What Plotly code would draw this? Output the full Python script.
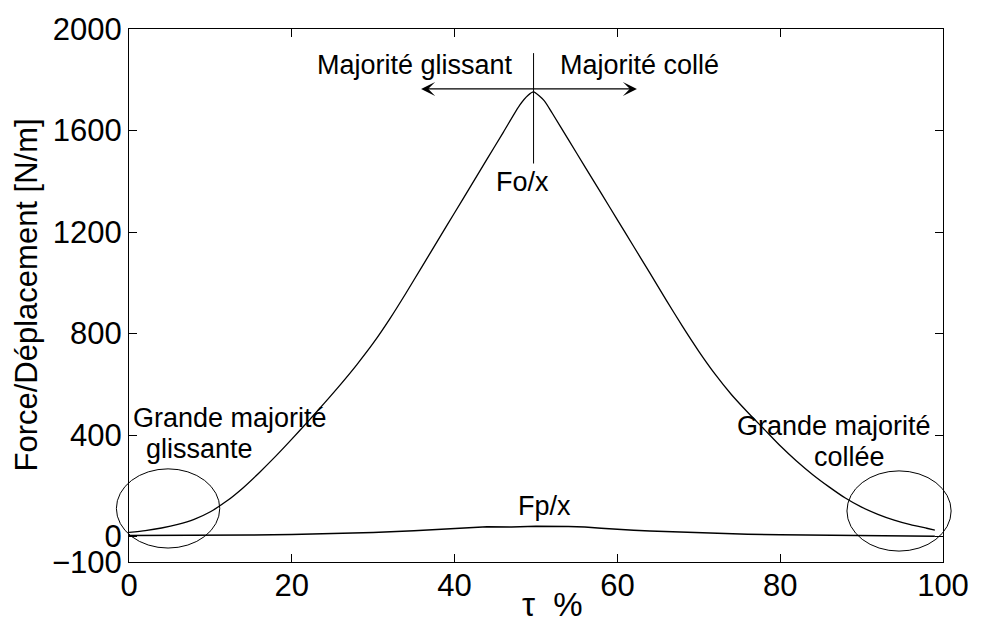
import plotly.graph_objects as go

# Fo/x curve (total force over displacement) vs stick ratio tau
tau_fo = [0, 2, 4, 6, 8, 10, 12, 14, 16, 18, 20, 22, 24, 26, 28, 30, 32, 34, 36, 38,
          40, 42, 44, 46, 48, 49, 49.7, 51, 52, 54, 56, 58, 60, 62, 64, 66, 68, 70,
          72, 74, 76, 78, 80, 82, 84, 86, 88, 90, 92, 94, 96, 98, 99]
fo = [17, 24, 34, 48, 68, 98, 140, 192, 252, 316, 384, 454, 526, 600, 678, 762, 856,
      958, 1064, 1170, 1276, 1382, 1488, 1594, 1700, 1738, 1752, 1718, 1668, 1563,
      1458, 1353, 1248, 1143, 1038, 932, 828, 730, 640, 560, 490, 424, 358, 298, 244,
      196, 152, 116, 88, 65, 47, 33, 26]

# Fp/x curve
tau_fp = [0, 5, 10, 15, 20, 25, 30, 35, 40, 44, 47, 50, 54, 56, 58, 60, 62, 64, 68,
          72, 76, 80, 85, 90, 95, 99]
fp = [4, 4, 5, 6, 8, 11, 16, 23, 31, 39, 38, 41, 40, 38, 33, 28, 25, 22, 17, 12, 9,
      7, 5, 3, 2, 1]

x_ticks = [0, 20, 40, 60, 80, 100]
y_ticks = [-100, 0, 400, 800, 1200, 1600, 2000]
y_ticktext = ["\u2212100", "0", "400", "800", "1200", "1600", "2000"]

X_RANGE = [0, 100]
Y_RANGE = [-100, 2000]

# highlighted zones: (center tau, center value, half width, half height)
zones = [(4.8, 111, 6.35, 156), (94.6, 101, 6.4, 158)]

FONT = "Liberation Sans, Arial, Helvetica, sans-serif"


def to_paper_x(v):
    return (v - X_RANGE[0]) / (X_RANGE[1] - X_RANGE[0])


def to_paper_y(v):
    return (v - Y_RANGE[0]) / (Y_RANGE[1] - Y_RANGE[0])


fig = go.Figure()
fig.add_trace(go.Scatter(x=tau_fo, y=fo, mode="lines",
                         line=dict(color="black", width=1.3, shape="spline",
                                   smoothing=0.6),
                         showlegend=False))
fig.add_trace(go.Scatter(x=tau_fp, y=fp, mode="lines",
                         line=dict(color="black", width=1.5), showlegend=False))

# ellipses drawn in paper space so they may spill past the axes box
for cx, cy, rx, ry in zones:
    fig.add_shape(type="circle", xref="paper", yref="paper",
                  x0=to_paper_x(cx - rx), x1=to_paper_x(cx + rx),
                  y0=to_paper_y(cy - ry), y1=to_paper_y(cy + ry),
                  line=dict(color="black", width=1))

# vertical marker through the peak
fig.add_shape(type="line", xref="x", yref="y", x0=49.7, x1=49.7, y0=1470, y1=1905,
              line=dict(color="black", width=1))

# double-headed arrow
fig.add_annotation(x=62.4, y=1764, ax=35.7, ay=1764, xref="x", yref="y",
                   axref="x", ayref="y", text="", showarrow=True,
                   arrowside="end+start", arrowhead=3, arrowsize=1.8,
                   arrowwidth=1.3, arrowcolor="black")

labels = [
    ("Majorité glissant", 35.1, 1860),
    ("Majorité collé", 62.7, 1860),
    ("Fo/x", 48.4, 1398),
    ("Fp/x", 51.0, 121),
    ("Grande majorité", 12.35, 467),
    ("glissante", 8.7, 347),
    ("Grande majorité", 86.65, 436),
    ("collée", 88.5, 315),
]
for txt, lx, ly in labels:
    fig.add_annotation(x=lx, y=ly, xref="x", yref="y", text=txt, showarrow=False,
                       font=dict(family=FONT, size=27, color="black"))

# axis titles
fig.add_annotation(x=to_paper_x(-12.65), y=0.5, xref="paper", yref="paper",
                   xanchor="center", yanchor="middle",
                   text="Force/Déplacement [N/m]", textangle=-90, showarrow=False,
                   font=dict(family=FONT, size=31, color="black"))
fig.add_annotation(x=0.52, y=-0.08, xref="paper", yref="paper",
                   xanchor="center", yanchor="middle", text="\u03c4\u00a0\u00a0%",
                   showarrow=False, font=dict(family=FONT, size=33, color="black"))

axis_common = dict(showline=True, linecolor="black", linewidth=1, mirror="ticks",
                   ticks="inside", ticklen=8, tickcolor="black", tickwidth=1,
                   showgrid=False, zeroline=False,
                   tickfont=dict(family=FONT, size=31, color="black"))

fig.update_xaxes(range=X_RANGE, tickvals=x_ticks, ticklabelstandoff=-4, **axis_common)
fig.update_yaxes(range=Y_RANGE, tickvals=y_ticks, ticktext=y_ticktext, **axis_common)

fig.update_layout(width=981, height=632, autosize=False,
                  margin=dict(l=129, r=33, t=22, b=70, pad=0),
                  plot_bgcolor="white", paper_bgcolor="white",
                  font=dict(family=FONT, color="black"))

fig.write_html("out.html")
